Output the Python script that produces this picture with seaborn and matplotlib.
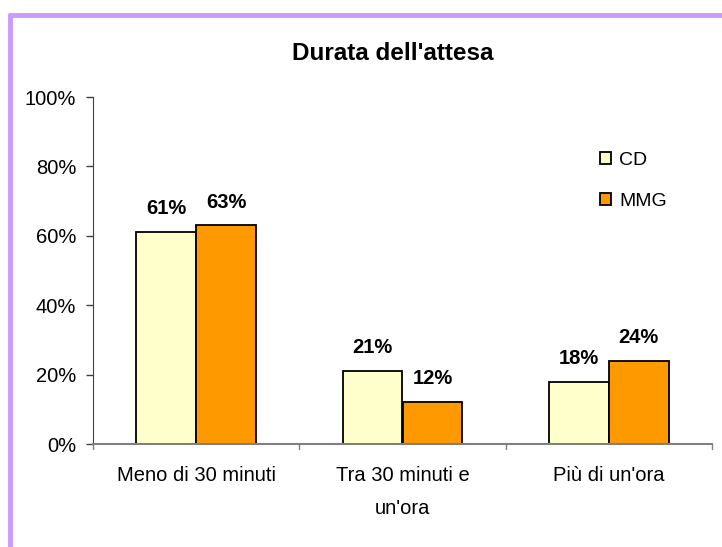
import pandas as pd
import numpy as np
import seaborn as sns
import matplotlib.pyplot as plt
from matplotlib.lines import Line2D
from matplotlib.patches import Patch

categories = ['Meno di 30 minuti', "Tra 30 minuti e\nun'ora", "Più di un'ora"]
series = ['CD', 'MMG']
cd_values = [61, 21, 18]
mmg_values = [63, 12, 24]
colors = ['#FFFFCC', '#FF9900']

df = pd.DataFrame({
    'categoria': categories * 2,
    'gruppo': ['CD'] * 3 + ['MMG'] * 3,
    'valore': cd_values + mmg_values,
})

sns.set_style('white')
plt.rcParams['font.family'] = ['Liberation Sans', 'DejaVu Sans']
plt.rcParams['text.color'] = 'black'
plt.rcParams['xtick.color'] = 'black'
plt.rcParams['ytick.color'] = 'black'

fig = plt.figure(figsize=(7.22, 5.47), dpi=100)
ax = fig.add_axes([93 / 722, 1 - 444 / 547, (712 - 93) / 722, (444 - 97) / 547])

sns.barplot(data=df, x='categoria', y='valore', hue='gruppo', order=categories,
            hue_order=series, palette=colors, saturation=1, width=0.58,
            edgecolor='black', linewidth=1.3, ax=ax, legend=False)

# value labels above bars
for container in ax.containers:
    ax.bar_label(container, labels=[f'{v:.0f}%' for v in container.datavalues],
                 padding=10, fontsize=14.5, fontweight='bold')

ax.set_xlim(-0.5, 2.5)
ax.set_ylim(0, 100)
ax.set_yticks(np.arange(0, 101, 20))
ax.set_yticklabels([f'{v}%' for v in range(0, 101, 20)], fontsize=14.5)
ax.set_xticks(range(3))
ax.set_xticklabels(categories, fontsize=14.5, linespacing=1.9)
ax.tick_params(axis='x', length=0, pad=16)
ax.tick_params(axis='y', length=5, width=1, color='#404040', left=True, pad=7)
# category boundary ticks, Excel style
for xb in [-0.5, 0.5, 1.5, 2.5]:
    ax.plot([xb, xb], [0, -1.5], color='#808080', lw=1, clip_on=False)
ax.set_xlabel('')
ax.set_ylabel('')
ax.spines['top'].set_visible(False)
ax.spines['right'].set_visible(False)
ax.spines['left'].set_color('#404040')
ax.spines['bottom'].set_color('#808080')
ax.spines['bottom'].set_linewidth(1.5)

fig.text(393 / 722, 1 - 54 / 547, "Durata dell'attesa", ha='center', va='center',
         fontsize=17.5, fontweight='bold')

handles = [Patch(facecolor=c, edgecolor='black', linewidth=1.3) for c in colors]
fig.legend(handles, series, loc='upper left', bbox_to_anchor=(582 / 722, 1 - 134 / 547),
           frameon=False, fontsize=14, handlelength=0.6, handleheight=0.6,
           handletextpad=0.4, labelspacing=1.25)

# purple frame (top and left only visible)
fig.add_artist(Line2D([10 / 722, 1], [1 - 15 / 547, 1 - 15 / 547], color='#CC99FF', lw=3.5))
fig.add_artist(Line2D([10 / 722, 10 / 722], [0, 1 - 15 / 547], color='#CC99FF', lw=3.5))

fig.savefig('out.png', dpi=100)
